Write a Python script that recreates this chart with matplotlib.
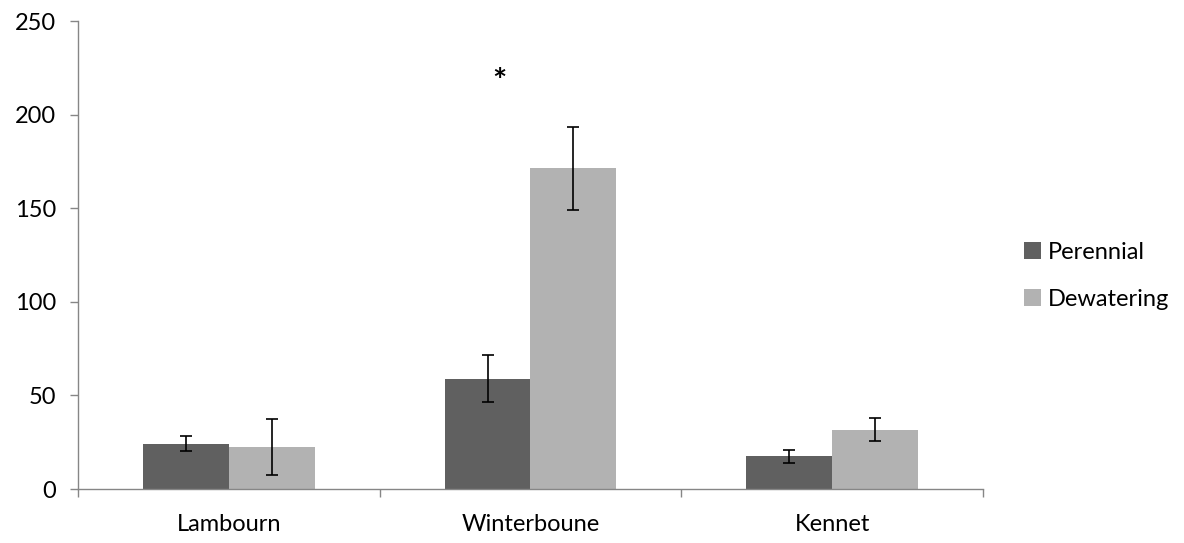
import numpy as np
import matplotlib.pyplot as plt

plt.rcParams['font.family'] = ['Lato', 'DejaVu Sans']

rivers = ['Lambourn', 'Winterboune', 'Kennet']
perennial = [24.3, 59.0, 17.5]
perennial_err = [4.2, 12.7, 3.5]
dewatering = [22.5, 171.3, 31.7]
dewatering_err = [15.0, 22.3, 6.1]

x = np.arange(len(rivers))
w = 0.285
axis_grey = '#868686'

fig = plt.figure(figsize=(11.84, 5.43), dpi=100)
ax = fig.add_axes([0.0659, 0.0994, 0.7643, 0.8619])

ax.bar(x - w / 2, perennial, w, color='#606060', label='Perennial', zorder=2)
ax.bar(x + w / 2, dewatering, w, color='#b2b2b2', label='Dewatering', zorder=2)
ax.errorbar(x - w / 2, perennial, yerr=perennial_err, fmt='none', ecolor='black',
            elinewidth=1.2, capsize=4, capthick=1.2, zorder=3)
ax.errorbar(x + w / 2, dewatering, yerr=dewatering_err, fmt='none', ecolor='black',
            elinewidth=1.2, capsize=4, capthick=1.2, zorder=3)

# significance marker above Winterboune
ax.text(0.896, 217, '*', ha='center', va='center', fontsize=24, fontweight='bold')

ax.set_xlim(-0.5, 2.5)
ax.set_ylim(0, 250)
ax.set_yticks([0, 50, 100, 150, 200, 250])
ax.set_xticks(x)
ax.set_xticklabels(rivers)
ax.set_xticks([-0.5, 0.5, 1.5, 2.5], minor=True)
ax.tick_params(axis='x', which='major', length=0, pad=18, labelsize=17)
ax.tick_params(axis='x', which='minor', length=6, color=axis_grey, width=1)
ax.tick_params(axis='y', length=6, color=axis_grey, width=1, labelsize=17, pad=10)

for s in ['top', 'right']:
    ax.spines[s].set_visible(False)
for s in ['left', 'bottom']:
    ax.spines[s].set_color(axis_grey)
    ax.spines[s].set_linewidth(1)

fig.legend(loc='center left', bbox_to_anchor=(0.847, 0.492), frameon=False,
           fontsize=17, handlelength=0.7, handleheight=0.7, handletextpad=0.3,
           labelspacing=1.1)

fig.savefig('out.png', dpi=100)
